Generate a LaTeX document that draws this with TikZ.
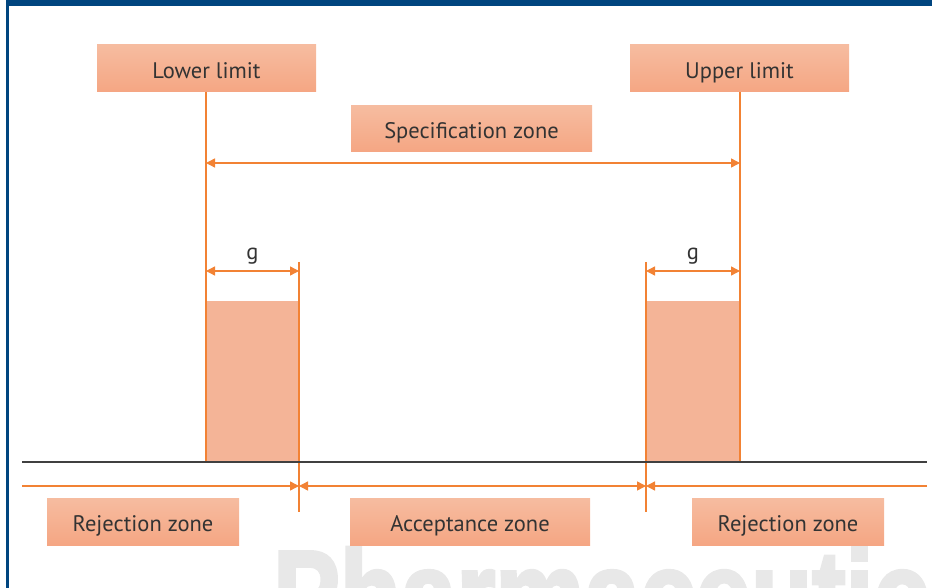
\documentclass[tikz,border=0pt]{standalone}
\usepackage{fontspec}
\setmainfont{PT Sans}
\newfontfamily\wmfont[FakeBold=3]{Liberation Sans}
\usetikzlibrary{arrows.meta}
\definecolor{framebl}{HTML}{00457F}
\definecolor{boxtop}{HTML}{F6BCA0}
\definecolor{boxbot}{HTML}{F5A683}
\definecolor{orl}{HTML}{F28234}
\definecolor{rectfill}{HTML}{F4B497}
\definecolor{txt}{HTML}{333333}
\definecolor{wm}{HTML}{E8E8E8}
\tikzset{
  lbox/.style={top color=boxtop, bottom color=boxbot, draw=none, text=txt,
    font=\fontsize{22.5}{26}\selectfont, inner sep=0pt, minimum height=47pt,
    text height=19.5pt, text depth=0pt},
  oline/.style={draw=orl, line width=1.4pt},
  tip/.style={-{Triangle[length=9pt,width=9pt]}},
  bitip/.style={{Triangle[length=9pt,width=9pt]}-{Triangle[length=9pt,width=9pt]}},
  glab/.style={text=txt, font=\fontsize{22.5}{26}\selectfont, inner sep=0pt}
}
\begin{document}
\begin{tikzpicture}[x=1pt,y=-1pt]
\useasboundingbox (0,0) rectangle (932,588);
\begin{scope}
\clip (0,0) rectangle (932,588);
% watermark
\node[anchor=base west, text=wm, inner sep=0pt, xscale=0.8,
  font=\wmfont\bfseries\fontsize{125}{125}\selectfont] (wmark) at (273,638) {Pharmaceutical};
\end{scope}
% frame
\fill[framebl] (6,0) rectangle (932,6.5);
\fill[framebl] (6,0) rectangle (8.5,588);
% labels
\node[lbox, minimum width=219pt] (lower) at (206.5,68.5) {Lower limit};
\node[lbox, minimum width=219pt] (upper) at (739.5,68.5) {Upper limit};
\node[lbox, minimum width=241pt, minimum height=46pt] (spec) at (471.5,129) {Specification zone};
\node[lbox, minimum width=192pt] (rej1) at (143,521.5) {Rejection zone};
\node[lbox, minimum width=240pt] (acc) at (470,521.5) {Acceptance zone};
\node[lbox, minimum width=192pt] (rej2) at (788,521.5) {Rejection zone};
% shaded rectangles
\fill[rectfill] (206,301) rectangle (299,462);
\fill[rectfill] (646,301) rectangle (740,462);
% coordinates
\coordinate (Lb) at (206,462);
\coordinate (Rb) at (740,462);
\coordinate (Ls) at (206,163);
\coordinate (Rs) at (740,163);
\coordinate (g1a) at (206,271);
\coordinate (g1b) at (299,271);
\coordinate (g2a) at (646,271);
\coordinate (g2b) at (740,271);
\coordinate (v1t) at (299,262);
\coordinate (v1b) at (299,512);
\coordinate (v2t) at (646,262);
\coordinate (v2b) at (646,512);
\coordinate (bl) at (22,462);
\coordinate (br) at (927,462);
\coordinate (ol) at (22,486);
\coordinate (or) at (927,486);
\coordinate (o1) at (299,486);
\coordinate (o2) at (646,486);
% vertical limit lines
\draw[oline] (206,92) -- (Lb);
\draw[oline] (740,92) -- (Rb);
\draw[oline] (v1t) -- (v1b);
\draw[oline] (v2t) -- (v2b);
% spec arrow
\draw[oline, bitip] (Ls) -- (Rs);
% g arrows
\draw[oline, bitip] (g1a) -- (g1b);
\draw[oline, bitip] (g2a) -- (g2b);
\node[glab] (gl1) at (252.5,256) {g};
\node[glab] (gl2) at (693,256) {g};
% baseline
\draw[draw=black!75, line width=1.8pt] (bl) -- (br);
% zone arrows
\draw[oline, tip] (ol) -- (o1);
\draw[oline, bitip] (o1) -- (o2);
\draw[oline, tip] (or) -- (o2);
\end{tikzpicture}
\end{document}
